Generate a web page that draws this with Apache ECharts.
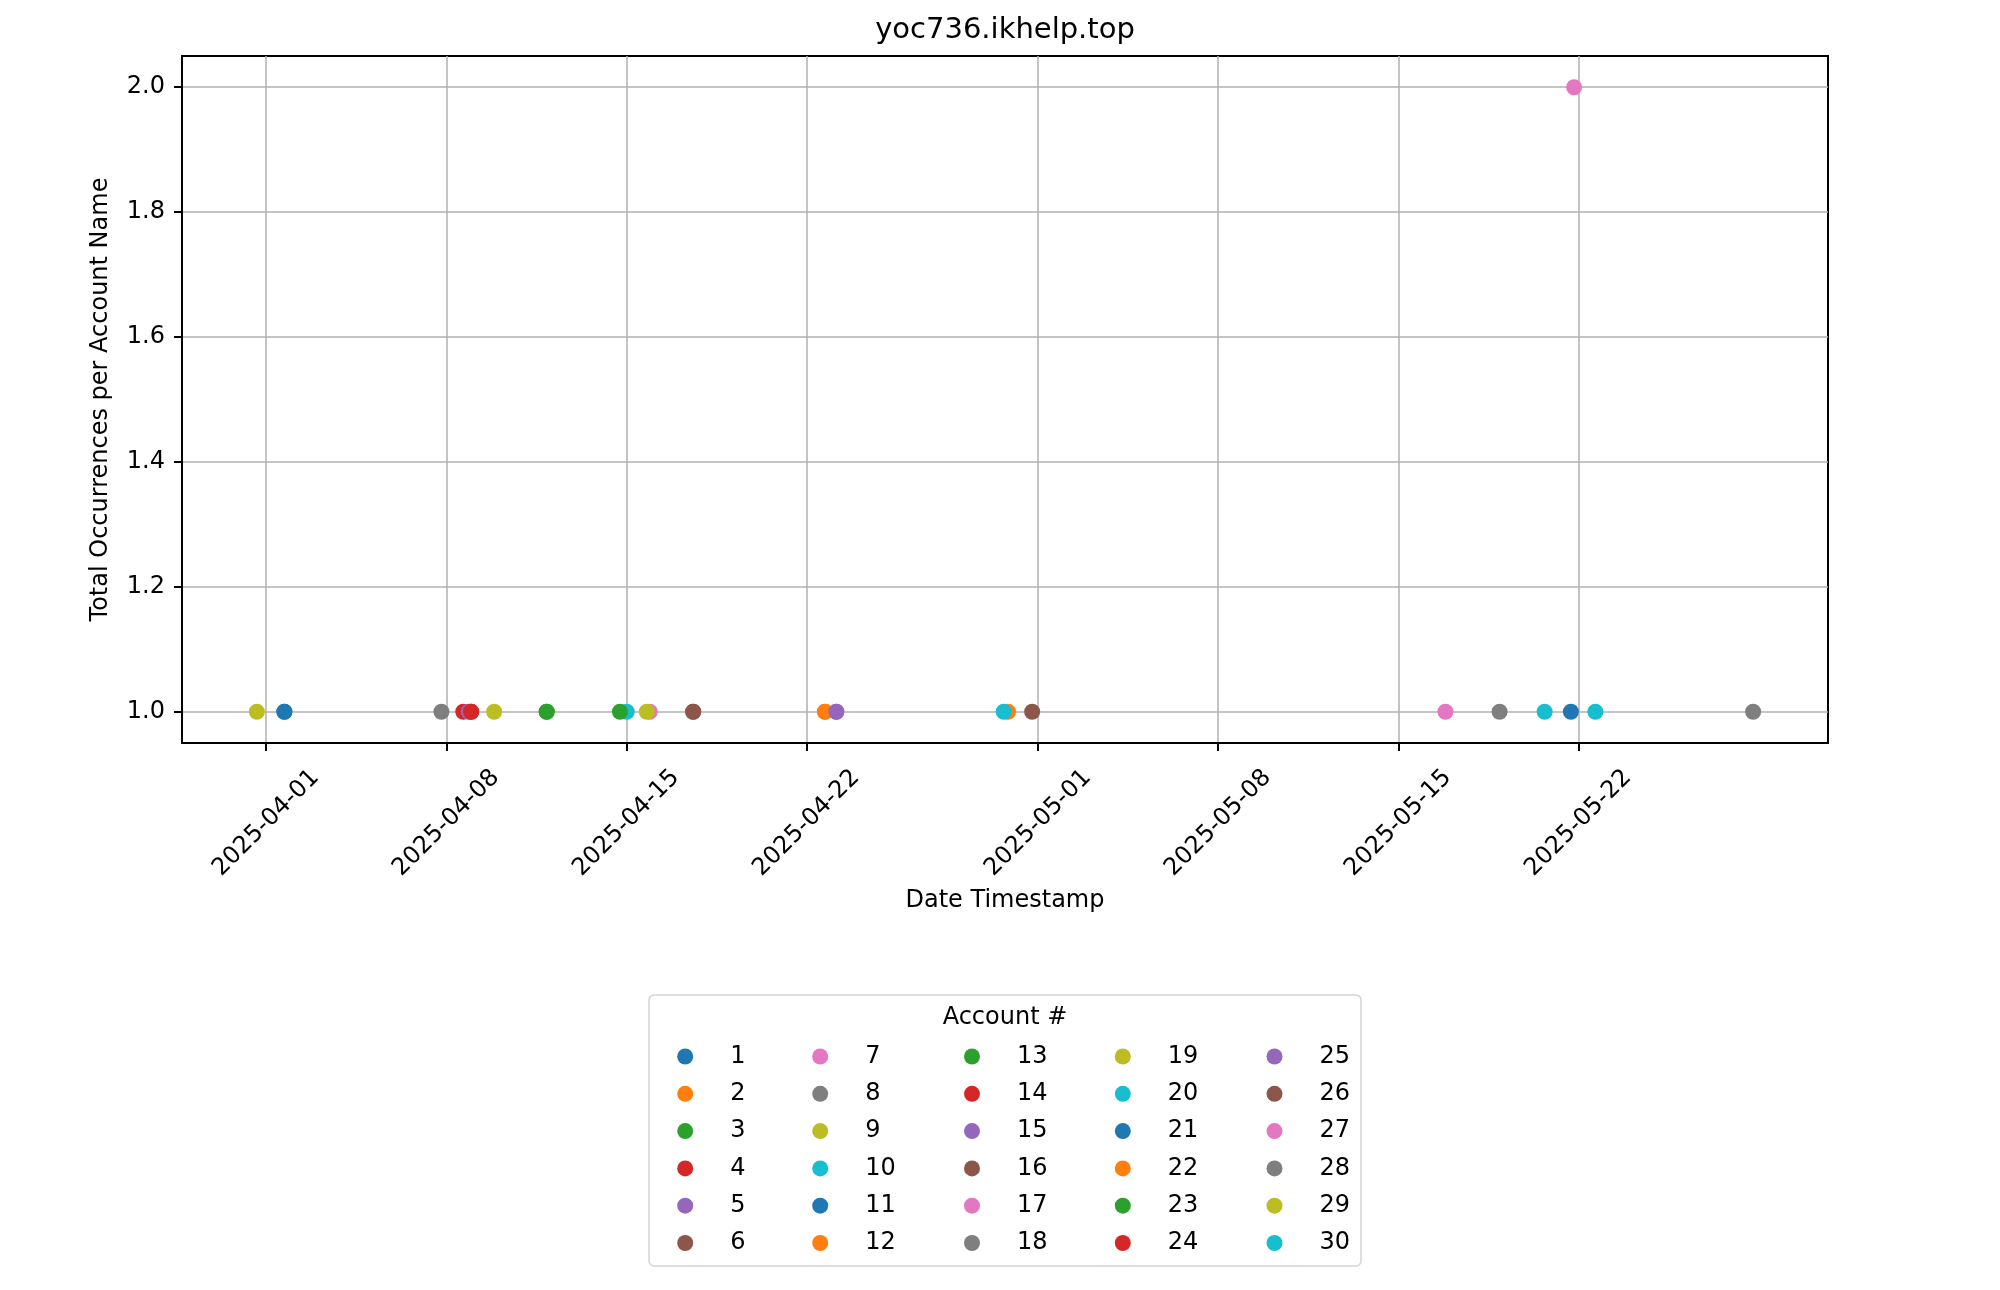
<!DOCTYPE html>
<html>
<head>
<meta charset="utf-8">
<script src="https://cdn.jsdelivr.net/npm/echarts@6/dist/echarts.min.js"></script>
<style>html,body{margin:0;padding:0;background:#fff}#c{width:2000px;height:1290px}</style>
</head>
<body>
<div id="c"></div>
<script>
// ---- data ----
const chartTitle = 'yoc736.ikhelp.top';
const accountNames = ['1','2','3','4','5','6','7','8','9','10','11','12','13','14','15',
  '16','17','18','19','20','21','22','23','24','25','26','27','28','29','30'];
// one entry per plotted point
const pointAccount = ['1','2','3','4','5','6','7','8','9','10','11','12','13','14','15',
  '16','17','18','19','20','21','22','23','24','25','26','27','28','29','30','30'];
const pointDate = [
  '2025-04-01 17:00','2025-04-22 17:15','2025-04-11 21:40','2025-04-08 15:50','2025-04-08 21:00',
  '2025-04-17 14:20','2025-04-15 21:50','2025-04-07 19:30','2025-03-31 15:20','2025-04-15 00:20',
  '2025-04-01 17:00','2025-04-29 20:00','2025-04-14 18:00','2025-04-08 23:15','2025-04-23 03:50',
  '2025-04-30 18:30','2025-05-16 20:00','2025-05-18 22:30','2025-04-15 19:00','2025-04-29 16:00',
  '2025-05-21 17:00','2025-04-22 17:15','2025-04-11 21:40','2025-04-08 23:15','2025-04-23 03:50',
  '2025-04-17 14:20','2025-05-21 20:00','2025-05-28 19:00','2025-04-09 20:40','2025-05-20 16:30',
  '2025-05-22 15:50'];
const pointCount = [1,1,1,1,1,1,1,1,1,1,1,1,1,1,1,1,1,1,1,1,1,1,1,1,1,1,2,1,1,1,1];
const xTickDates = ['2025-04-01','2025-04-08','2025-04-15','2025-04-22','2025-05-01','2025-05-08','2025-05-15','2025-05-22'];
const yTicks = [1.0, 1.2, 1.4, 1.6, 1.8, 2.0];
const xRange = ['2025-03-28 17:30', '2025-05-31 16:50'];
const yRange = [0.95, 2.05];
const palette = ['#1f77b4','#ff7f0e','#2ca02c','#d62728','#9467bd','#8c564b','#e377c2','#7f7f7f','#bcbd22','#17becf'];

// ---- helpers ----
function toTs(s) {
  const [d, t] = s.split(' ');
  const [y, m, dd] = d.split('-').map(Number);
  let h = 0, mi = 0;
  if (t) { [h, mi] = t.split(':').map(Number); }
  return Date.UTC(y, m - 1, dd, h, mi);
}
function fmtDate(v) {
  const d = new Date(v);
  const p = n => String(n).padStart(2, '0');
  return d.getUTCFullYear() + '-' + p(d.getUTCMonth() + 1) + '-' + p(d.getUTCDate());
}
const FONT = 'DejaVu Sans';

const series = accountNames.map((name, i) => {
  const data = [];
  pointAccount.forEach((a, k) => { if (a === name) data.push([toTs(pointDate[k]), pointCount[k]]); });
  return {
    name: name,
    type: 'scatter',
    data: data,
    symbol: 'circle',
    symbolSize: 16,
    itemStyle: { color: palette[i % palette.length], opacity: 1 },
    emphasis: { disabled: true },
    z: 3
  };
});

// legend: 5 columns of 6
const colCenters = [685.2, 820.2, 972, 1122.8, 1274.5];
const legends = colCenters.map((cx, c) => ({
  orient: 'vertical',
  left: cx - 8,
  top: 1044.5,
  height: 235,
  padding: 0,
  icon: 'circle',
  itemWidth: 16,
  itemHeight: 16,
  itemGap: 13.3,
  selectedMode: false,
  data: accountNames.slice(c * 6, c * 6 + 6),
  textStyle: { fontFamily: FONT, fontSize: 24, color: '#000', lineHeight: 15, padding: [0, 0, 0, 32] }
}));

const xTickVals = xTickDates.map(toTs);

const chart = echarts.init(document.getElementById('c'), null, { renderer: 'canvas' });
chart.setOption({
  animation: false,
  backgroundColor: '#fff',
  color: palette,
  title: [
    { text: chartTitle, left: 1005, top: 16, padding: 0, textAlign: 'center',
      textStyle: { fontFamily: FONT, fontSize: 29, fontWeight: 'normal', color: '#000' } },
    { text: 'Account #', left: 1005, top: 1006, padding: 0, textAlign: 'center',
      textStyle: { fontFamily: FONT, fontSize: 24, fontWeight: 'normal', color: '#000' } }
  ],
  graphic: [{
    type: 'rect', z: 0,
    shape: { x: 649, y: 995, width: 712, height: 271, r: 5 },
    style: { fill: '#fff', stroke: '#d3d3d3', lineWidth: 1.5 }
  }],
  legend: legends,
  grid: {
    left: 182, right: 172, top: 56, bottom: 547,
    show: true, borderColor: '#000', borderWidth: 2, backgroundColor: 'transparent'
  },
  xAxis: {
    type: 'value',
    min: toTs(xRange[0]),
    max: toTs(xRange[1]),
    name: 'Date Timestamp',
    nameLocation: 'middle',
    nameGap: 146,
    nameTextStyle: { fontFamily: FONT, fontSize: 24, color: '#000', verticalAlign: 'top' },
    axisLine: { show: true, lineStyle: { color: '#000', width: 2 } },
    axisTick: { show: true, length: 8, lineStyle: { color: '#000', width: 2 }, customValues: xTickVals },
    axisLabel: {
      show: true, rotate: 45, margin: 80, align: 'center', verticalAlign: 'middle',
      fontFamily: FONT, fontSize: 24, color: '#000',
      customValues: xTickVals,
      formatter: v => fmtDate(v),
      hideOverlap: false
    },
    splitLine: { show: true, lineStyle: { color: '#b0b0b0', width: 1.5 } }
  },
  yAxis: {
    type: 'value',
    min: yRange[0],
    max: yRange[1],
    name: 'Total Occurrences per Account Name',
    nameLocation: 'middle',
    nameGap: 69,
    nameRotate: 90,
    nameTextStyle: { fontFamily: FONT, fontSize: 24, color: '#000' },
    axisLine: { show: true, lineStyle: { color: '#000', width: 2 } },
    axisTick: { show: true, length: 8, lineStyle: { color: '#000', width: 2 }, customValues: yTicks },
    axisLabel: {
      show: true, margin: 17, fontFamily: FONT, fontSize: 24, color: '#000',
      customValues: yTicks,
      formatter: v => Number(v).toFixed(1)
    },
    splitLine: { show: true, lineStyle: { color: '#b0b0b0', width: 1.5 } }
  },
  series: series
});
</script>
</body>
</html>
